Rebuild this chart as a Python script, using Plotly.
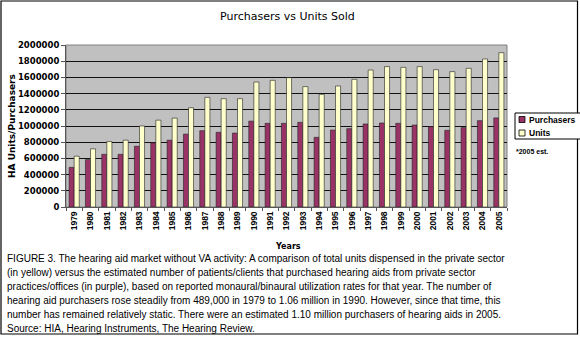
import plotly.graph_objects as go

years = [str(y) for y in range(1979, 2006)]
purchasers = [489000, 585000, 650000, 650000, 750000, 792000, 825000, 900000,
              942000, 922000, 913000, 1060000, 1033000, 1033000, 1045000, 860000,
              950000, 967000, 1025000, 1037000, 1033000, 1012000, 992000, 947000,
              980000, 1066000, 1100000]
units = [627000, 718000, 808000, 825000, 1000000, 1072000, 1097000, 1225000,
         1354000, 1337000, 1337000, 1543000, 1564000, 1597000, 1486000, 1391000,
         1494000, 1576000, 1691000, 1733000, 1724000, 1733000, 1695000, 1671000,
         1712000, 1827000, 1905000]
yticks = list(range(0, 2000001, 200000))

title_text = "Purchasers vs Units Sold"
caption_lines = [
    "FIGURE 3. The hearing aid market without VA activity: A comparison of total units dispensed in the private sector",
    "(in yellow) versus the estimated number of patients/clients that purchased hearing aids from private sector",
    "practices/offices (in purple), based on reported monaural/binaural utilization rates for that year. The number of",
    "hearing aid purchasers rose steadily from 489,000 in 1979 to 1.06 million in 1990. However, since that time, this",
    "number has remained relatively static. There were an estimated 1.10 million purchasers of hearing aids in 2005.",
    "Source: HIA, Hearing Instruments, The Hearing Review.",
]

W, H = 580, 337
L, R, T, B = 66, 73, 45, 130
PW, PH = W - L - R, H - T - B

def px(x):
    return (x - L) / PW

def py(y):
    return (H - B - y) / PH

PURPLE = "#993366"
YELLOW = "#ffffcc"

fig = go.Figure()
fig.add_trace(go.Bar(x=years, y=purchasers, name="Purchasers",
                     marker=dict(color=PURPLE, line=dict(color="#222222", width=0.6))))
fig.add_trace(go.Bar(x=years, y=units, name="Units",
                     marker=dict(color=YELLOW, line=dict(color="#222222", width=0.6))))

shapes = []
# outer frame
shapes.append(dict(type="rect", xref="paper", yref="paper",
                   x0=px(1), x1=px(577.5), y0=py(1), y1=py(334),
                   line=dict(color="black", width=1.2), fillcolor="rgba(0,0,0,0)", layer="above"))
# plot area outline
shapes.append(dict(type="rect", xref="paper", yref="paper", x0=0, x1=1, y0=0, y1=1,
                   line=dict(color="#808080", width=1), fillcolor="rgba(0,0,0,0)", layer="below"))
# legend box
shapes.append(dict(type="rect", xref="paper", yref="paper",
                   x0=px(515), x1=px(585), y0=py(113), y1=py(139),
                   line=dict(color="black", width=1), fillcolor="white", layer="above"))
shapes.append(dict(type="rect", xref="paper", yref="paper",
                   x0=px(519), x1=px(525), y0=py(116.5), y1=py(122.5),
                   line=dict(color="black", width=0.8), fillcolor=PURPLE, layer="above"))
shapes.append(dict(type="rect", xref="paper", yref="paper",
                   x0=px(519), x1=px(525), y0=py(130), y1=py(136),
                   line=dict(color="black", width=0.8), fillcolor=YELLOW, layer="above"))

ann = []
ann.append(dict(text=title_text, xref="paper", yref="paper", x=px(287), y=py(17),
                xanchor="center", yanchor="middle", showarrow=False,
                font=dict(family="DejaVu Sans", size=11, color="black")))
ann.append(dict(text="<b>HA Units/Purchasers</b>", xref="paper", yref="paper", x=px(12), y=py(126),
                xanchor="center", yanchor="middle", textangle=-90, showarrow=False,
                font=dict(family="DejaVu Sans", size=9, color="black")))
ann.append(dict(text="<b>Years</b>", xref="paper", yref="paper", x=px(288), y=py(246),
                xanchor="center", yanchor="middle", showarrow=False,
                font=dict(family="DejaVu Sans", size=8, color="black")))
ann.append(dict(text="<b>Purchasers</b>", xref="paper", yref="paper", x=px(526.5), y=py(119.5),
                xanchor="left", yanchor="middle", showarrow=False,
                font=dict(family="Liberation Sans", size=8.5, color="black")))
ann.append(dict(text="<b>Units</b>", xref="paper", yref="paper", x=px(526.5), y=py(133),
                xanchor="left", yanchor="middle", showarrow=False,
                font=dict(family="Liberation Sans", size=8.5, color="black")))
ann.append(dict(text="<b>*2005 est.</b>", xref="paper", yref="paper", x=px(514), y=py(151),
                xanchor="left", yanchor="middle", showarrow=False,
                font=dict(family="Liberation Sans", size=7, color="black")))
line_y = [258, 272.5, 286.5, 300.5, 314.5, 328]
for t, yy in zip(caption_lines, line_y):
    ann.append(dict(text=t, xref="paper", yref="paper", x=px(5), y=py(yy),
                    xanchor="left", yanchor="middle", showarrow=False,
                    font=dict(family="Liberation Sans", size=10, color="black")))

fig.update_layout(
    width=W, height=H,
    margin=dict(l=L, r=R, t=T, b=B, pad=0),
    paper_bgcolor="white", plot_bgcolor="#c0c0c0",
    barmode="group", bargap=0.38, bargroupgap=0.0,
    showlegend=False,
    shapes=shapes, annotations=ann,
    xaxis=dict(type="category", tickangle=-90, ticks="outside", ticklen=3,
               tickson="boundaries", tickcolor="#555555",
               showline=True, linecolor="#555555", linewidth=1,
               tickfont=dict(family="Liberation Sans", size=8.5, color="black", weight="bold"),
               showgrid=False),
    yaxis=dict(range=[0, 2000000], tickvals=yticks, ticktext=[str(v) for v in yticks],
               ticks="outside", ticklen=4, tickcolor="#555555",
               showline=True, linecolor="#555555", linewidth=1,
               showgrid=True, gridcolor="#111111", gridwidth=1,
               tickfont=dict(family="DejaVu Sans", size=8.5, color="black", weight="bold"),
               zeroline=False),
)

fig.write_html("out.html")
